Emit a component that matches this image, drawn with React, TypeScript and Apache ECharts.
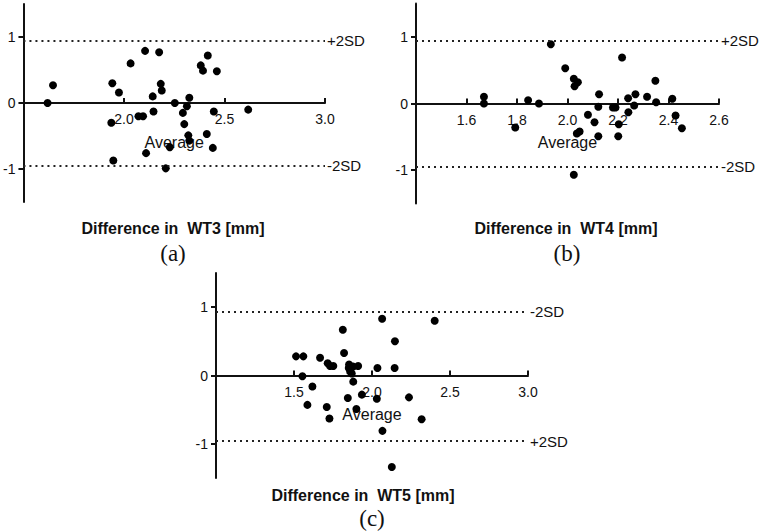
import React, { useEffect, useRef } from "react";
import * as echarts from "echarts";

// Panel (a): WT3
const aX = [1.62, 1.647, 1.942, 1.975, 1.937, 1.947, 2.033, 2.105, 2.175, 2.183, 2.188, 2.143, 2.147, 2.072, 2.095, 2.11, 2.208, 2.228, 2.253, 2.293, 2.313, 2.325, 2.3, 2.32, 2.325, 2.382, 2.393, 2.417, 2.462, 2.447, 2.412, 2.442, 2.618];
const aY = [0, 0.27, 0.3, 0.16, -0.3, -0.87, 0.6, 0.79, 0.77, 0.29, 0.19, 0.1, -0.13, -0.2, -0.2, -0.76, -0.99, -0.67, 0.0, -0.15, -0.05, 0.08, -0.32, -0.49, -0.57, 0.57, 0.49, 0.72, 0.48, -0.13, -0.47, -0.68, -0.1];
// Panel (b): WT4
const bX = [1.669, 1.669, 1.793, 1.844, 1.887, 1.934, 1.991, 2.025, 2.041, 2.028, 2.048, 2.037, 2.025, 2.081, 2.107, 2.125, 2.122, 2.122, 2.18, 2.19, 2.203, 2.201, 2.216, 2.24, 2.241, 2.264, 2.269, 2.315, 2.348, 2.351, 2.415, 2.428, 2.453];
const bY = [0.1, 0.0, -0.36, 0.05, 0.0, 0.89, 0.53, 0.37, 0.32, 0.26, -0.42, -0.45, -1.07, -0.17, -0.28, 0.14, -0.05, -0.49, -0.06, -0.06, -0.31, -0.49, 0.69, 0.08, -0.13, -0.03, 0.14, 0.1, 0.34, 0.02, 0.07, -0.18, -0.37];
// Panel (c): WT5
const cX = [1.513, 1.56, 1.554, 1.618, 1.586, 1.667, 1.716, 1.731, 1.752, 1.71, 1.727, 1.813, 1.821, 1.853, 1.851, 1.86, 1.87, 1.88, 1.911, 1.845, 1.935, 1.9, 2.031, 2.035, 2.065, 2.067, 2.145, 2.147, 2.127, 2.237, 2.318, 2.402, 1.88];
const cY = [0.28, 0.28, -0.01, -0.16, -0.43, 0.26, 0.18, 0.14, 0.14, -0.46, -0.63, 0.67, 0.33, 0.16, 0.11, 0.06, 0.03, -0.09, 0.14, -0.33, -0.28, -0.49, -0.34, 0.11, 0.83, -0.81, 0.11, 0.5, -1.34, -0.32, -0.64, 0.8, 0.13];

// limits of agreement (values) and their labels as printed
const sdA = [0.94, -0.95];
const sdB = [0.94, -0.95];
const sdC = [0.94, -0.96];
const sdLabelsAB = ["+2SD", "-2SD"];
const sdLabelsC = ["-2SD", "+2SD"];

// axis ranges and tick labels
const xRangeA = [1.5, 3.0];
const xRangeB = [1.4, 2.6];
const xRangeC = [1.0, 3.0];
const xTicksA = [2.0, 2.5, 3.0];
const xTicksB = [1.6, 1.8, 2.0, 2.2, 2.4, 2.6];
const xTicksC = [1.5, 2.0, 2.5, 3.0];
const yRange = [-1.5, 1.5];
const yTicks = [-1, 0, 1];

const titles = ["Difference in  WT3 [mm]", "Difference in  WT4 [mm]", "Difference in  WT5 [mm]"];
const panelLabels = ["(a)", "(b)", "(c)"];

const SANS = "'Liberation Sans', Arial, sans-serif";
const SERIF = "'Liberation Serif', 'Times New Roman', serif";

export default function App() {
  const ref = useRef<HTMLDivElement>(null);
  useEffect(() => {
    if (!ref.current) return;
    const chart = echarts.init(ref.current, undefined, { renderer: "svg" });

    const grids = [
      { left: 23, top: 4, width: 302, height: 198 },
      { left: 416, top: 3.5, width: 303, height: 200 },
      { left: 216, top: 273, width: 312, height: 205 },
    ];
    const xRanges = [xRangeA, xRangeB, xRangeC];
    const xTicks = [xTicksA, xTicksB, xTicksC];
    const xs = [aX, bX, cX];
    const ys = [aY, bY, cY];
    const sds = [sdA, sdB, sdC];
    const sdLabels = [sdLabelsAB, sdLabelsAB, sdLabelsC];

    const axisLine = { show: true, onZero: false, lineStyle: { color: "#111", width: 2 } };
    const axisTick = (vals: number[], inside: boolean) => ({
      show: true,
      inside,
      length: 5,
      lineStyle: { color: "#111", width: 2 },
      customValues: vals,
    });

    const xAxis = grids.map((g, i) => ({
      type: "value",
      gridIndex: i,
      position: "bottom",
      // the x axis crosses at y = 0, the middle of the symmetric y range
      offset: -g.height / 2,
      min: xRanges[i][0],
      max: xRanges[i][1],
      name: "Average",
      nameLocation: "middle",
      nameGap: 31,
      nameTextStyle: { fontFamily: SANS, fontSize: 16, color: "#111" },
      axisLine,
      axisTick: axisTick(xTicks[i], true),
      axisLabel: {
        customValues: xTicks[i],
        formatter: (v: number) => v.toFixed(1),
        fontFamily: SANS,
        fontSize: 14,
        color: "#111",
        margin: 9,
      },
      splitLine: { show: false },
    }));

    const yAxis = grids.map((_, i) => ({
      type: "value",
      gridIndex: i,
      min: yRange[0],
      max: yRange[1],
      axisLine,
      axisTick: axisTick(yTicks, false),
      axisLabel: {
        customValues: yTicks,
        formatter: (v: number) => String(v),
        fontFamily: SANS,
        fontSize: 14,
        color: "#111",
        margin: 8,
      },
      splitLine: { show: false },
    }));

    const series = grids.map((_, i) => ({
      type: "scatter",
      xAxisIndex: i,
      yAxisIndex: i,
      symbol: "circle",
      symbolSize: 8,
      itemStyle: { color: "#000", opacity: 1 },
      data: xs[i].map((x, k) => [x, ys[i][k]]),
      markLine: {
        silent: true,
        symbol: "none",
        lineStyle: { type: [2, 4], width: 2, color: "#222" },
        label: {
          show: true,
          position: "end",
          distance: 2,
          fontFamily: SANS,
          fontSize: 15,
          color: "#111",
        },
        data: sds[i].map((v, k) => ({ yAxis: v, label: { formatter: sdLabels[i][k] } })),
      },
    }));

    const titlePos = [
      [173, 228],
      [566, 228],
      [363, 495],
    ];
    const labelPos = [
      [173, 253],
      [567, 253],
      [372, 518],
    ];
    const graphic: any[] = [];
    titles.forEach((t, i) => {
      graphic.push({
        type: "text",
        x: titlePos[i][0],
        y: titlePos[i][1],
        style: {
          text: t,
          fontFamily: SANS,
          fontSize: 16,
          fontWeight: "bold",
          fill: "#111",
          align: "center",
          verticalAlign: "middle",
        },
      });
      graphic.push({
        type: "text",
        x: labelPos[i][0],
        y: labelPos[i][1],
        style: {
          text: panelLabels[i],
          fontFamily: SERIF,
          fontSize: 23,
          fill: "#111",
          align: "center",
          verticalAlign: "middle",
        },
      });
    });

    chart.setOption({
      animation: false,
      backgroundColor: "#fff",
      grid: grids,
      xAxis,
      yAxis,
      series,
      graphic,
    } as any);

    return () => chart.dispose();
  }, []);

  return (
    <div
      ref={ref}
      style={{ position: "fixed", left: 0, top: 0, width: 760, height: 531, background: "#fff" }}
    />
  );
}
